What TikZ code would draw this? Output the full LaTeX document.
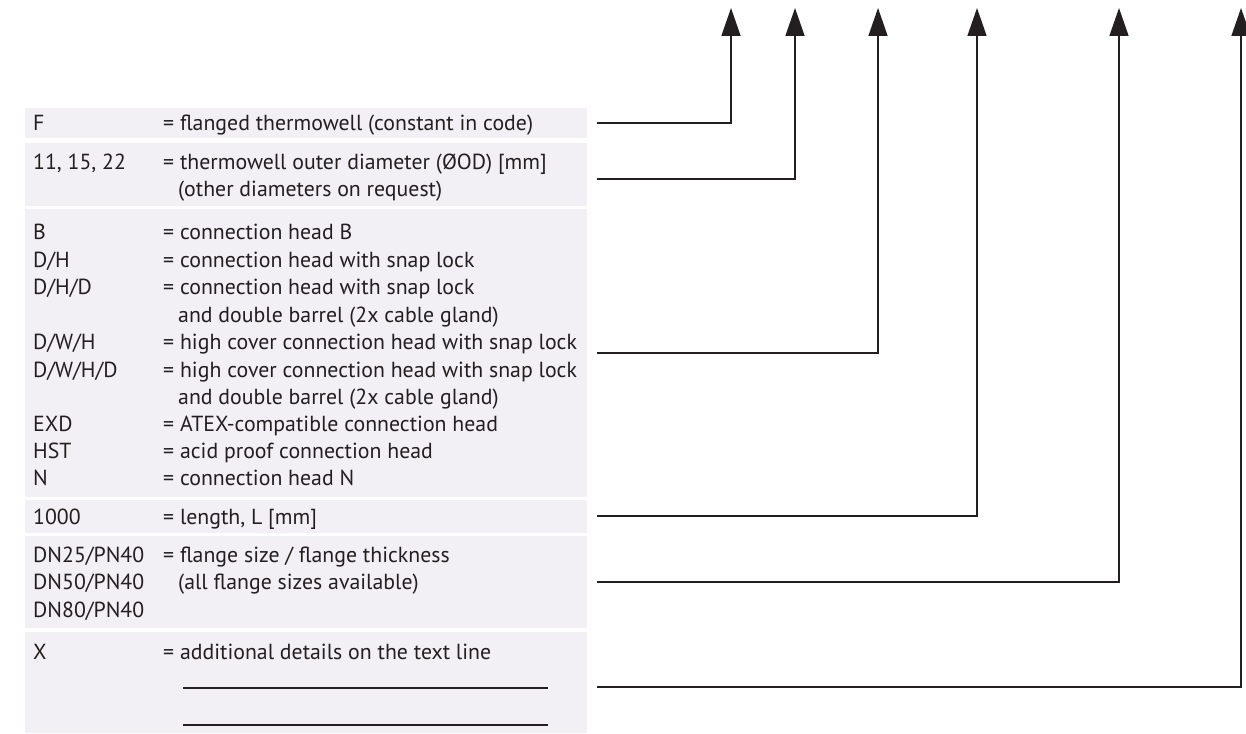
\documentclass[tikz,border=0pt]{standalone}
\usepackage{fontspec}
\setmainfont{PT Sans}
\usetikzlibrary{arrows.meta}
\definecolor{boxgrey}{RGB}{242,240,244}
\definecolor{ink}{RGB}{35,31,32}
\tikzset{
  codebox/.style={fill=boxgrey, draw=none, rectangle, anchor=north west, minimum width=562pt, inner sep=0pt},
  code/.style={anchor=base west, inner sep=0pt, text=ink, font=\fontsize{21.8}{26}\selectfont},
  conn/.style={draw=ink, line width=1.6pt, -{Triangle[width=19pt,length=28pt]}},
  blank/.style={draw=ink, line width=1.3pt}
}
\begin{document}
\begin{tikzpicture}[x=1pt,y=-1pt]
\useasboundingbox (0,0) rectangle (1246,733);
% boxes
\node[codebox, minimum height=30pt] (b1) at (25,108) {};
\node[codebox, minimum height=63pt] (b2) at (25,143) {};
\node[codebox, minimum height=288pt] (b3) at (25,209) {};
\node[codebox, minimum height=33pt] (b4) at (25,500) {};
\node[codebox, minimum height=92pt] (b5) at (25,536) {};
\node[codebox, minimum height=101pt] (b6) at (25,632) {};
% box 1
\node[code] (k1) at (33,130.5) {F};
\node[code] (d1) at (163,130.5) {= flanged thermowell (constant in code)};
% box 2
\node[code] (k2) at (33,169.5) {11, 15, 22};
\node[code] (d2a) at (163,169.5) {= thermowell outer diameter (ØOD) [mm]};
\node[code] (d2b) at (178,196.5) {(other diameters on request)};
% box 3
\node[code] (k3a) at (33,239.5) {B};
\node[code] (d3a) at (163,239.5) {= connection head B};
\node[code] (k3b) at (33,267) {D/H};
\node[code] (d3b) at (163,267) {= connection head with snap lock};
\node[code] (k3c) at (33,294.5) {D/H/D};
\node[code] (d3c) at (163,294.5) {= connection head with snap lock};
\node[code] (d3c2) at (178,322) {and double barrel (2x cable gland)};
\node[code] (k3d) at (33,349.5) {D/W/H};
\node[code] (d3d) at (163,349.5) {= high cover connection head with snap lock};
\node[code] (k3e) at (33,377.5) {D/W/H/D};
\node[code] (d3e) at (163,377.5) {= high cover connection head with snap lock};
\node[code] (d3e2) at (178,404.5) {and double barrel (2x cable gland)};
\node[code] (k3f) at (33,431.5) {EXD};
\node[code] (d3f) at (163,431.5) {= ATEX-compatible connection head};
\node[code] (k3g) at (33,458.5) {HST};
\node[code] (d3g) at (163,458.5) {= acid proof connection head};
\node[code] (k3h) at (33,485.5) {N};
\node[code] (d3h) at (163,485.5) {= connection head N};
% box 4
\node[code] (k4) at (33,524.5) {1000};
\node[code] (d4) at (163,524.5) {= length, L [mm]};
% box 5
\node[code] (k5a) at (33,562.5) {DN25/PN40};
\node[code] (d5a) at (163,562.5) {= flange size / flange thickness};
\node[code] (k5b) at (33,589.5) {DN50/PN40};
\node[code] (d5b) at (178,589.5) {(all flange sizes available)};
\node[code] (k5c) at (33,617.5) {DN80/PN40};
% box 6
\node[code] (k6) at (33,659.5) {X};
\node[code] (d6) at (163,659.5) {= additional details on the text line};
\coordinate (u1a) at (183,688); \coordinate (u1b) at (548,688);
\coordinate (u2a) at (183,725); \coordinate (u2b) at (548,725);
\draw[blank] (u1a) -- (u1b);
\draw[blank] (u2a) -- (u2b);
% connectors
\coordinate (s1) at (597,123); \coordinate (t1) at (731,8);
\coordinate (s2) at (597,179); \coordinate (t2) at (795,8);
\coordinate (s3) at (597,353); \coordinate (t3) at (878,8);
\coordinate (s4) at (597,516); \coordinate (t4) at (977,8);
\coordinate (s5) at (597,582); \coordinate (t5) at (1119,8);
\coordinate (s6) at (597,687); \coordinate (t6) at (1241,8);
\draw[conn] (s1) -| (t1);
\draw[conn] (s2) -| (t2);
\draw[conn] (s3) -| (t3);
\draw[conn] (s4) -| (t4);
\draw[conn] (s5) -| (t5);
\draw[conn] (s6) -| (t6);
\end{tikzpicture}
\end{document}
